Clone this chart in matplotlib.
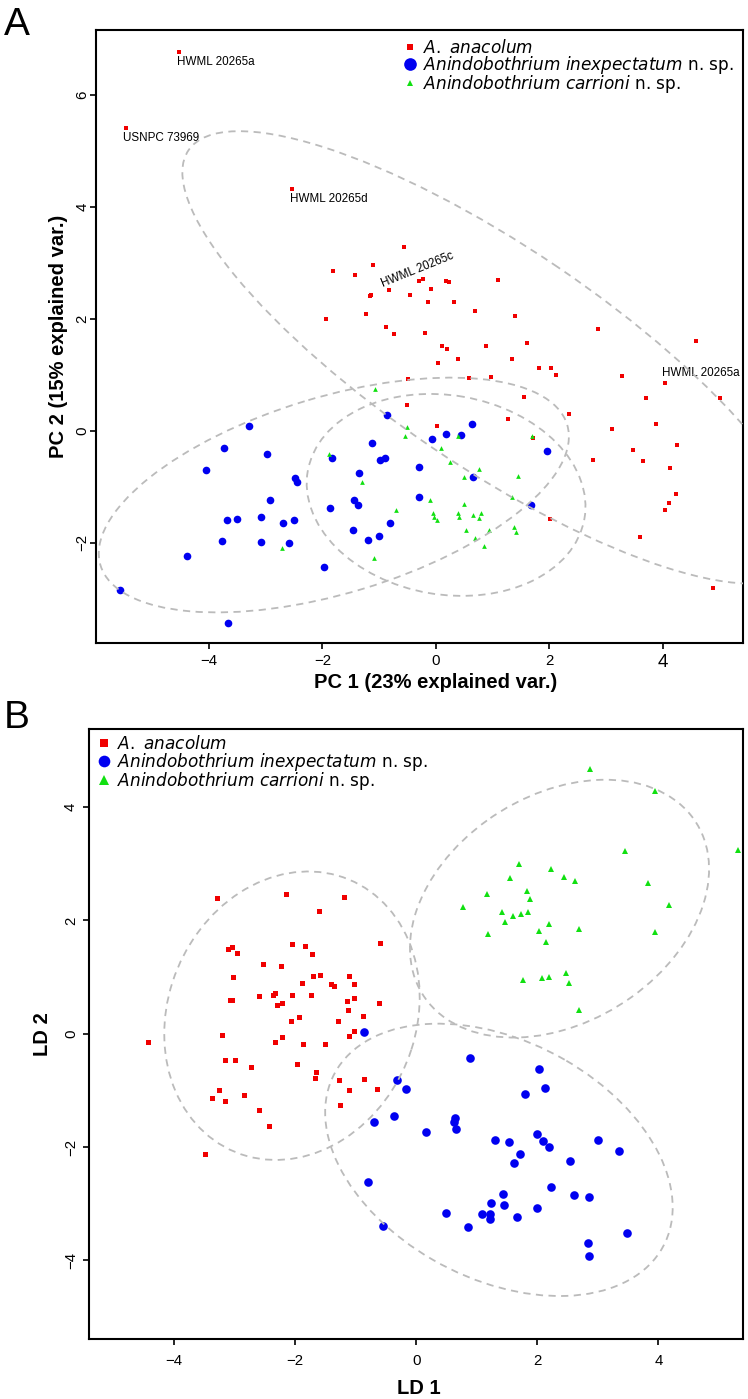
import numpy as np
import matplotlib
matplotlib.use("Agg")
import matplotlib.pyplot as plt
from matplotlib.patches import Ellipse
from matplotlib.lines import Line2D

# --- panel A: PCA scores -------------------------------------------------
red_a_pc1 = [-4.53, -5.47, -2.53, -1.82, -1.42, -1.11, -0.56, -0.82, -1.15, -1.16,
             -1.24, -1.93, -0.30, -0.22, -0.08, -0.46, -0.14, 0.18, 0.23, 0.32,
             1.10, 0.69, 1.39, -0.88, -0.74, -0.20, 0.11, 0.19, 0.03, 0.39,
             0.89, 1.60, 1.34, 1.81, 2.03, 2.12, 2.86, 4.58, 3.27, 4.04,
             5.00, 3.70, -0.50, 0.59, 0.97, 1.56, 2.34, -0.51, 1.27, 0.02,
             3.11, 3.87, 1.71, 4.24, 3.47, 3.64, 2.76, 4.13, 4.23, 4.11,
             4.03, 2.01, 3.59, 4.88]
red_a_pc2 = [6.76, 5.41, 4.32, 2.86, 2.78, 2.97, 3.28, 2.51, 2.43, 2.40,
             2.08, 2.00, 2.68, 2.71, 2.53, 2.43, 2.30, 2.67, 2.65, 2.31,
             2.70, 2.14, 2.05, 1.86, 1.73, 1.74, 1.51, 1.46, 1.22, 1.29,
             1.51, 1.57, 1.29, 1.13, 1.12, 1.00, 1.82, 1.60, 0.98, 0.85,
             0.59, 0.59, 0.93, 0.95, 0.96, 0.60, 0.30, 0.47, 0.21, 0.09,
             0.04, 0.12, -0.12, -0.25, -0.35, -0.54, -0.52, -0.67, -1.13, -1.29,
             -1.41, -1.57, -1.90, -2.80]

blue_a_pc1 = [-0.86, 0.63, 0.17, 0.45, -0.07, -1.13, 1.96, -1.83, -0.99, -0.89,
              -1.35, -0.30, 0.65, -1.44, -1.38, -1.86, -0.30, 1.67, -0.81, -1.46,
              -1.19, -1.01, -1.97, -5.57, -3.67, -4.38, -4.06, -3.73, -3.30, -2.98,
              -2.48, -2.45, -2.93, -3.68, -3.50, -3.08, -2.70, -2.51, -3.77, -3.09,
              -2.59]
blue_a_pc2 = [0.28, 0.12, -0.05, -0.08, -0.15, -0.22, -0.36, -0.48, -0.52, -0.48,
              -0.75, -0.64, -0.82, -1.23, -1.32, -1.37, -1.19, -1.33, -1.64, -1.78,
              -1.95, -1.87, -2.44, -2.84, -3.44, -2.23, -0.70, -0.30, 0.08, -0.42,
              -0.85, -0.91, -1.23, -1.60, -1.57, -1.54, -1.65, -1.59, -1.96, -1.99,
              -2.00]

green_a_pc1 = [-1.08, -0.51, -0.55, 0.38, 1.70, 0.09, -1.89, 0.25, 0.76, 0.49,
               1.44, -1.30, 1.34, -0.10, 0.49, -0.71, -0.05, 0.39, 0.80, 0.66,
               -0.03, 0.41, 0.75, 0.01, 1.37, 1.41, 0.53, 0.93, 0.68, 0.85,
               -1.09, -2.71]
green_a_pc2 = [0.75, 0.06, -0.09, -0.09, -0.10, -0.30, -0.41, -0.55, -0.68, -0.82,
               -0.80, -0.91, -1.18, -1.23, -1.31, -1.42, -1.47, -1.47, -1.47, -1.51,
               -1.54, -1.54, -1.56, -1.60, -1.72, -1.80, -1.77, -1.77, -1.91, -2.05,
               -2.27, -2.10]

# specimen labels on A. anacolum points (index -> text)
specimen_labels = {0: "HWML 20265a", 1: "USNPC 73969", 2: "HWML 20265d",
                   39: "HWML 20265a", 7: "HWML 20265c"}

# --- panel B: LDA scores -------------------------------------------------
red_b_ld1 = [-3.29, -2.15, -1.19, -1.60, -0.60, -2.05, -1.84, -1.72, -3.10, -3.04,
             -2.95, -2.53, -2.23, -3.02, -1.71, -1.58, -1.11, -1.88, -1.40, -1.36,
             -1.02, -3.08, -3.04, -2.59, -2.36, -2.33, -2.05, -1.73, -1.03, -1.14,
             -0.62, -2.21, -2.29, -1.12, -0.87, -2.06, -1.93, -1.29, -1.02, -4.42,
             -3.20, -2.21, -2.33, -1.86, -1.50, -1.11, -3.16, -2.99, -2.72, -1.96,
             -1.66, -1.67, -1.27, -0.86, -0.64, -1.11, -3.25, -3.37, -3.15, -2.84,
             -1.26, -2.60, -2.43, -3.49]
red_b_ld2 = [2.40, 2.47, 2.42, 2.17, 1.60, 1.59, 1.55, 1.40, 1.49, 1.53,
             1.42, 1.23, 1.20, 1.01, 1.02, 1.03, 1.02, 0.89, 0.87, 0.84,
             0.87, 0.60, 0.60, 0.67, 0.68, 0.72, 0.68, 0.68, 0.63, 0.58,
             0.54, 0.55, 0.50, 0.41, 0.31, 0.22, 0.30, 0.23, 0.05, -0.15,
             -0.02, -0.06, -0.15, -0.19, -0.18, -0.04, -0.46, -0.47, -0.58, -0.54,
             -0.67, -0.79, -0.81, -0.80, -0.98, -0.99, -1.00, -1.14, -1.19, -1.08,
             -1.25, -1.35, -1.63, -2.13]

blue_b_ld1 = [-0.86, 0.89, -0.31, -0.17, -0.37, -0.69, 0.16, 0.62, 0.64, 0.66,
              1.30, 1.53, 1.61, 1.71, -0.80, 1.43, 1.23, 1.45, 0.50, 1.08,
              1.22, 1.22, 0.86, 1.67, -0.54, 2.03, 2.12, 1.80, 1.99, 2.10,
              2.19, 2.54, 3.00, 3.35, 2.23, 2.60, 2.86, 2.00, 3.48, 2.83,
              2.85]
blue_b_ld2 = [0.03, -0.43, -0.82, -0.97, -1.46, -1.56, -1.73, -1.55, -1.48, -1.68,
              -1.88, -1.91, -2.28, -2.13, -2.62, -2.83, -2.99, -3.03, -3.17, -3.19,
              -3.18, -3.27, -3.42, -3.24, -3.39, -0.62, -0.96, -1.06, -1.77, -1.89,
              -2.00, -2.24, -1.88, -2.07, -2.70, -2.85, -2.88, -3.08, -3.51, -3.70,
              -3.92]

green_b_ld1 = [2.87, 3.95, 5.32, 3.45, 1.69, 2.22, 2.44, 2.63, 1.55, 3.82,
               1.17, 1.83, 1.88, 0.78, 4.17, 1.42, 1.60, 1.73, 1.84, 1.46,
               2.19, 2.02, 2.69, 3.95, 1.18, 2.15, 1.76, 2.07, 2.19, 2.48,
               2.52, 2.68]
green_b_ld2 = [4.68, 4.29, 3.24, 3.22, 3.00, 2.91, 2.77, 2.70, 2.75, 2.66,
               2.47, 2.52, 2.38, 2.24, 2.27, 2.15, 2.08, 2.11, 2.15, 1.97,
               1.94, 1.81, 1.85, 1.80, 1.76, 1.62, 0.95, 0.98, 1.00, 1.08,
               0.90, 0.42]

group_names = [r"$\mathit{A.\ anacolum}$",
               r"$\mathit{Anindobothrium\ inexpectatum}$ n. sp.",
               r"$\mathit{Anindobothrium\ carrioni}$ n. sp."]
group_colors = ["#F00000", "#0000F0", "#11E011"]
group_markers = ["s", "o", "^"]

plt.rcParams["font.family"] = ["Liberation Sans", "DejaVu Sans"]
plt.rcParams["mathtext.fontset"] = "dejavusans"

W, H = 748, 1399
fig = plt.figure(figsize=(W / 100, H / 100), dpi=100)
axA = fig.add_axes([96 / W, 1 - 643 / H, 647 / W, 613 / H])
axB = fig.add_axes([89 / W, 1 - 1339 / H, 653.7 / W, 610 / H])


def data_ellipse(ax, x, y, level=0.95):
    x = np.asarray(x)
    y = np.asarray(y)
    vals, vecs = np.linalg.eigh(np.cov(x, y))
    r = np.sqrt(-2 * np.log(1 - level))
    angle = np.degrees(np.arctan2(vecs[1, 1], vecs[0, 1]))
    ax.add_patch(Ellipse((x.mean(), y.mean()), 2 * r * np.sqrt(vals[1]),
                         2 * r * np.sqrt(vals[0]), angle=angle, fill=False,
                         edgecolor="#BBBBBB", lw=1.3, linestyle=(0, (4, 3)),
                         zorder=4))


def scores(ax, groups, sizes):
    for (x, y), c, m, s in zip(groups, group_colors, group_markers, sizes):
        ax.plot(x, y, ls="none", marker=m, ms=s, color=c, mew=0, zorder=3)
    for x, y in groups:
        data_ellipse(ax, x, y)


def legend(ax, left, top, sizes):
    handles = [Line2D([], [], ls="none", marker=m, color=c, ms=s, mew=0)
               for m, c, s in zip(group_markers, group_colors, sizes)]
    ax.legend(handles, group_names, loc="upper left", bbox_to_anchor=(left, top),
              frameon=False, borderpad=0, borderaxespad=0, handlelength=0.6,
              handletextpad=0.45, labelspacing=-0.17,
              prop={"family": "DejaVu Sans", "size": 12.2})


def frame(ax):
    for sp in ax.spines.values():
        sp.set_linewidth(1.5)
    ax.tick_params(direction="out", length=4.5, width=1.2, labelsize=10.8)
    ax.tick_params(axis="y", labelrotation=90)
    for lbl in ax.get_yticklabels():
        lbl.set_va("center")


# panel A
scores(axA, [(red_a_pc1, red_a_pc2), (blue_a_pc1, blue_a_pc2),
             (green_a_pc1, green_a_pc2)], [2.8, 5.5, 3.4])
for i, txt in specimen_labels.items():
    if txt == "HWML 20265c":
        axA.annotate(txt, (red_a_pc1[i], red_a_pc2[i]), xytext=(20.3, 14.7),
                     textcoords="offset points", ha="center", va="center",
                     rotation=22, rotation_mode="anchor", fontsize=8.4)
    elif i == 39:
        axA.annotate(txt, (red_a_pc1[i], red_a_pc2[i]), xytext=(-2.4, 7.2),
                     textcoords="offset points", ha="left", va="center",
                     fontsize=8.4)
    else:
        axA.annotate(txt, (red_a_pc1[i], red_a_pc2[i]), xytext=(-1.5, -7.0),
                     textcoords="offset points", ha="left", va="center",
                     fontsize=8.4)

axA.set_xlim(-5.99, 5.41)
axA.set_ylim(-3.79, 7.16)
axA.set_xticks([-4, -2, 0, 2, 4])
axA.set_yticks([-2, 0, 2, 4, 6])
frame(axA)
axA.tick_params(axis="x", pad=3.5)
axA.tick_params(axis="y", pad=0.3)
axA.get_xticklabels()[-1].set_fontsize(13.5)
axA.set_xlabel("PC 1 (23% explained var.)", fontsize=14.5, fontweight="bold",
               va="center")
axA.xaxis.set_label_coords((435.5 - 96) / 647, (643 - 683) / 613)
axA.set_ylabel("PC 2 (15% explained var.)", fontsize=14.5, fontweight="bold",
               va="center")
axA.yaxis.set_label_coords((58 - 96) / 647, 0.5)
legend(axA, 0.4774, 0.9851, [4.3, 9.1, 5.0])

# panel B
scores(axB, [(red_b_ld1, red_b_ld2), (blue_b_ld1, blue_b_ld2),
             (green_b_ld1, green_b_ld2)], [3.6, 6.2, 4.1])
axB.set_xlim(-5.40, 5.39)
axB.set_ylim(-5.39, 5.38)
axB.set_xticks([-4, -2, 0, 2, 4])
axB.set_yticks([-4, -2, 0, 2, 4])
frame(axB)
axB.tick_params(axis="x", pad=6.3)
axB.tick_params(axis="y", pad=3.5)
axB.set_xlabel("LD 1", fontsize=14.5, fontweight="bold", va="center")
axB.xaxis.set_label_coords((419 - 89) / 653.7, (1339 - 1389) / 610)
axB.set_ylabel("LD 2", fontsize=14.5, fontweight="bold", va="center")
axB.yaxis.set_label_coords((43 - 89) / 653.7, 0.5)
legend(axB, 0.0156, 0.9895, [5.3, 8.4, 7.0])

fig.text(4 / W, 1 - 35 / H, "A", fontsize=28, ha="left", va="baseline")
fig.text(4 / W, 1 - 728 / H, "B", fontsize=28, ha="left", va="baseline")

fig.savefig("out.png", dpi=100)
